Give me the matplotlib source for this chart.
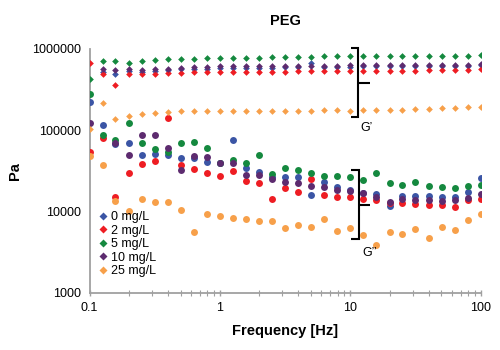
import numpy as np
import matplotlib
matplotlib.use("Agg")
import matplotlib.pyplot as plt

nan = np.nan

freq = [0.1, 0.126, 0.158, 0.2, 0.251, 0.316, 0.398, 0.501, 0.631, 0.794,
        1.0, 1.26, 1.58, 2.0, 2.51, 3.16, 3.98, 5.01, 6.31, 7.94,
        10.0, 12.6, 15.8, 20.0, 25.1, 31.6, 39.8, 50.1, 63.1, 79.4, 100.0]

labels = ["0 mg/L", "2 mg/L", "5 mg/L", "10 mg/L", "25 mg/L"]
colors = ["#3b55a5", "#ee1d23", "#15893f", "#5d2b6f", "#f7a04a"]

# Storage modulus G' (diamonds)
g1_0 = [nan, 526e3, 492e3, 540e3, 525e3, 535e3, 545e3, 560e3, 565e3, 570e3,
        580e3, 585e3, 585e3, 590e3, 590e3, 595e3, 595e3, 680e3, 600e3, 600e3,
        605e3, 610e3, 610e3, 610e3, 610e3, 612e3, 612e3, 615e3, 615e3, 615e3, 630e3]
g1_2 = [678e3, 492e3, 365e3, 492e3, 492e3, 492e3, 505e3, 510e3, 515e3, 520e3,
        525e3, 525e3, 525e3, 525e3, 525e3, 528e3, 530e3, 540e3, 540e3, 540e3,
        540e3, 540e3, 540e3, 540e3, 540e3, 542e3, 545e3, 545e3, 545e3, 548e3, 560e3]
g1_5 = [424e3, 705e3, 705e3, 680e3, 710e3, 730e3, 745e3, 755e3, 760e3, 770e3,
        785e3, 785e3, 785e3, 785e3, 795e3, 795e3, 805e3, 805e3, 810e3, 815e3,
        820e3, 825e3, 825e3, 825e3, 825e3, 825e3, 828e3, 828e3, 830e3, 830e3, 832e3]
g1_10 = [nan, 562e3, 550e3, 562e3, 550e3, 562e3, 575e3, 590e3, 595e3, 600e3,
         610e3, 615e3, 615e3, 615e3, 615e3, 615e3, 618e3, 620e3, 622e3, 625e3,
         630e3, 632e3, 635e3, 635e3, 635e3, 635e3, 635e3, 637e3, 638e3, 640e3, 655e3]
g1_25 = [105e3, 214e3, 137e3, 150e3, 158e3, 164e3, 169e3, 172e3, 172e3, 172e3,
         173e3, 173e3, 173e3, 173e3, 174e3, 174e3, 174e3, 174e3, 175e3, 175e3,
         174e3, 177e3, 177e3, 177e3, 177e3, 181e3, 183e3, 186e3, 188e3, 191e3, 195e3]

# Loss modulus G'' (circles)
g2_0 = [222e3, 117e3, 68e3, 69e3, 49.5e3, 51e3, 50e3, 45.1e3, 46e3, 41e3,
        39e3, 75.7e3, 34e3, 30.8e3, 26.3e3, 26.3e3, 26.3e3, 15.8e3, 23.2e3, 20.2e3,
        18.4e3, 17e3, 16.4e3, 11.7e3, 15.5e3, 15.5e3, 15.5e3, 15.2e3, 14.9e3, 17.5e3, 25.6e3]
g2_2 = [54e3, 81e3, 15.2e3, 30e3, 38e3, 41.4e3, 140e3, 37.2e3, 33.5e3, 29.4e3,
        27.5e3, 31.5e3, 23.8e3, 22.2e3, 14.1e3, 19.2e3, 17.5e3, 24.8e3, 15.8e3, 14.9e3,
        14.9e3, 14.1e3, 13.8e3, 12.6e3, 12.6e3, 12.3e3, 12e3, 12e3, 11.4e3, 13.8e3, 14.3e3]
g2_5 = [277e3, 88e3, 75e3, 124e3, 70.2e3, 58.2e3, 53.5e3, 69e3, 72e3, 59.8e3,
        39.5e3, 43e3, 40e3, 49.7e3, 28.9e3, 34.5e3, 32.4e3, 30e3, 27.3e3, 27.3e3,
        26.3e3, 24.4e3, 29.4e3, 22.6e3, 21.1e3, 23.2e3, 20.6e3, 20.2e3, 19.2e3, 20.6e3, 21.1e3]
g2_10 = [124e3, nan, 68.9e3, 49.5e3, 88e3, 87.3e3, 61e3, 32.3e3, 47.5e3, 46.4e3,
         39.1e3, 39.1e3, 28e3, 28e3, 24.8e3, 23.2e3, 22.6e3, 20.6e3, 20.2e3, 18.4e3,
         18e3, 17e3, 15.2e3, 13.2e3, 14.1e3, 13.8e3, 13.8e3, 13.5e3, 13.8e3, 14.5e3, 16.4e3]
g2_25 = [48e3, 37.2e3, 13.4e3, 10.2e3, 14.2e3, 12.9e3, 13.2e3, 10.4e3, 5570, 9300,
         8850, 8220, 7990, 7690, 7690, 6190, 6810, 6480, 7990, 5740,
         6190, 5080, 3820, 5540, 5270, 6030, 4740, 6370, 5900, 7830, 9290]

gp_series = [g1_0, g1_2, g1_5, g1_10, g1_25]
gpp_series = [g2_0, g2_2, g2_5, g2_10, g2_25]

plt.rcParams['font.family'] = ['Liberation Sans', 'DejaVu Sans']

fig = plt.figure(figsize=(5.0, 3.5), dpi=100)
ax = fig.add_axes([0.179, 0.1637, 0.7824, 0.6963])

handles = []
for gp, gpp, c, lab in zip(gp_series, gpp_series, colors, labels):
    h, = ax.plot(freq, gp, linestyle='none', marker='D', ms=3.4,
                 mfc=c, mec='none', label=lab, zorder=3)
    ax.plot(freq, gpp, linestyle='none', marker='o', ms=5.0,
            mfc=c, mec='none', zorder=3)
    handles.append(h)

ax.set_xscale('log')
ax.set_yscale('log')
ax.set_xlim(0.1, 100)
ax.set_ylim(1000, 1000000)

ax.set_xticks([0.1, 1, 10, 100])
ax.set_xticklabels(["0.1", "1", "10", "100"])
ax.set_yticks([1000, 10000, 100000, 1000000])
ax.set_yticklabels(["1000", "10000", "100000", "1000000"])
ax.yaxis.set_minor_locator(matplotlib.ticker.NullLocator())

for s in ['top', 'right']:
    ax.spines[s].set_visible(False)
for s in ['left', 'bottom']:
    ax.spines[s].set_color('#a0a0a0')
    ax.spines[s].set_linewidth(1.3)

ax.tick_params(axis='x', which='major', direction='inout', length=5, width=1,
               color='#a0a0a0', labelsize=9, pad=4)
ax.tick_params(axis='x', which='minor', direction='inout', length=4, width=0.8,
               color='#a0a0a0')
ax.tick_params(axis='y', which='major', length=0, labelsize=9, pad=6)

ax.set_xlabel("Frequency [Hz]", fontsize=10.5, fontweight='bold')
ax.xaxis.set_label_coords(0.5, -0.13)
ax.set_ylabel("Pa", fontsize=10.5, fontweight='bold')
ax.yaxis.set_label_coords(-0.172, 0.5)

fig.text(0.571, 0.94, "PEG", fontsize=10.5, fontweight='bold',
         ha='center', va='center')

# Braces
def brace(x_v, y_top, y_bot, y_mid, x_hook, x_tick):
    kw = dict(color='black', lw=1.5, transform=ax.transAxes, clip_on=False,
              solid_capstyle='butt', solid_joinstyle='miter')
    ax.plot([x_hook, x_v, x_v, x_hook], [y_top, y_top, y_bot, y_bot], **kw)
    ax.plot([x_v, x_tick], [y_mid, y_mid], **kw)

brace(0.687, 1.004, 0.721, 0.862, 0.668, 0.717)
brace(0.689, 0.503, 0.220, 0.360, 0.668, 0.717)
ax.text(0.709, 0.676, "G’", transform=ax.transAxes, fontsize=9,
        ha='center', va='center')
ax.text(0.717, 0.163, "G’’", transform=ax.transAxes, fontsize=9,
        ha='center', va='center')

ax.legend(handles=handles, loc='upper left', bbox_to_anchor=(0.025, 0.335),
          frameon=False, fontsize=9, handlelength=0.6, handletextpad=0.3,
          labelspacing=0.12, borderpad=0, borderaxespad=0, markerscale=1.2)

fig.savefig("out.png", dpi=100)
